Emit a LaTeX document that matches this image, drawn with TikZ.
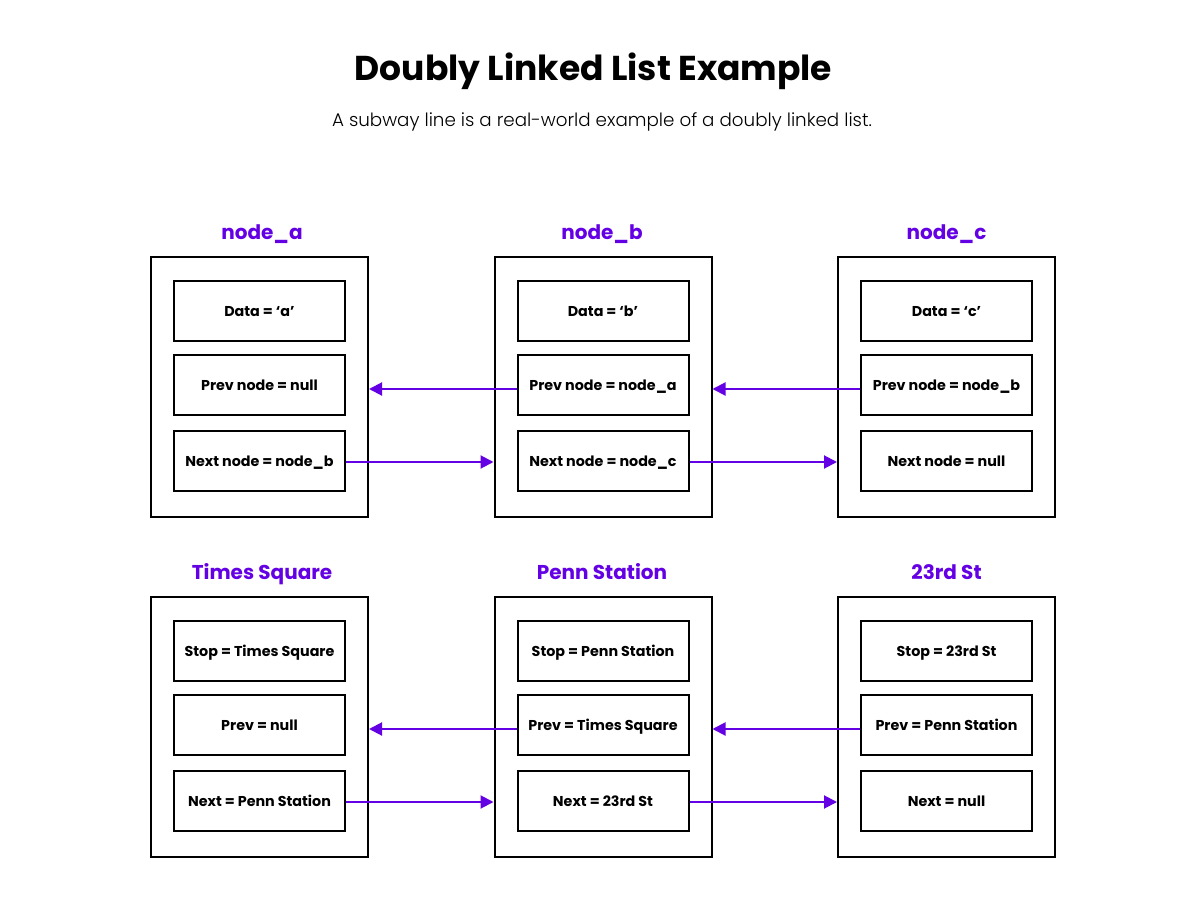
\documentclass[tikz,border=0pt]{standalone}
\usepackage{fontspec}
\setmainfont{Poppins}
\newfontfamily\lightfont{Poppins Light}
\usetikzlibrary{arrows.meta}
\definecolor{vio}{HTML}{6400E4}
\begin{document}
\begin{tikzpicture}[x=1pt,y=-1pt,
  outerbox/.style={draw, line width=2pt, minimum width=217pt, minimum height=260pt, inner sep=0pt},
  field/.style={draw, line width=2pt, minimum width=171pt, minimum height=60pt, inner sep=0pt, text height=10pt, text depth=0pt, font=\bfseries\fontsize{14.3}{18}\selectfont},
  heading/.style={text=vio, inner sep=0pt, anchor=base, font=\bfseries\fontsize{20}{24}\selectfont},
  link/.style={draw=vio, line width=2pt, -{Triangle[length=13pt,width=13pt]}}]
\useasboundingbox (0,0) rectangle (1195,915);
\fill[white] (0,0) rectangle (1195,915);
\node[anchor=base, inner sep=0pt, font=\bfseries\fontsize{34.5}{40}\selectfont] (title) at (593.5,81) {Doubly Linked List Example};
\node[anchor=base, inner sep=0pt, font=\lightfont\fontsize{18.3}{22}\selectfont] (subtitle) at (602,127) {A subway line is a real-world example of a doubly linked list.};
% row 1
\node[outerbox] (oa) at (259.5,387) {};
\node[outerbox] (ob) at (603,387) {};
\node[outerbox] (oc) at (946.5,387) {};
\node[heading] (ha) at (262,240) {node\_a};
\node[heading] (hb) at (602,240) {node\_b};
\node[heading] (hc) at (946.5,240) {node\_c};
\node[field] (da) at (259.5,311) {Data = ‘a’};
\node[field] (pa) at (259.5,385) {Prev node = null};
\node[field] (na) at (259.5,461) {Next node = node\_b};
\node[field] (db) at (603,311) {Data = ‘b’};
\node[field] (pb) at (603,385) {Prev node = node\_a};
\node[field] (nb) at (603,461) {Next node = node\_c};
\node[field] (dc) at (946.5,311) {Data = ‘c’};
\node[field] (pc) at (946.5,385) {Prev node = node\_b};
\node[field] (nc) at (946.5,461) {Next node = null};
% row 2
\node[outerbox] (ot) at (259.5,727) {};
\node[outerbox] (op) at (603,727) {};
\node[outerbox] (os) at (946.5,727) {};
\node[heading] (ht) at (262,579.5) {Times Square};
\node[heading] (hp) at (602,579.5) {Penn Station};
\node[heading] (hs) at (946.5,579.5) {23rd St};
\node[field] (st) at (259.5,651) {Stop = Times Square};
\node[field] (pt) at (259.5,725) {Prev = null};
\node[field] (nt) at (259.5,801) {Next = Penn Station};
\node[field] (sp) at (603,651) {Stop = Penn Station};
\node[field] (pp) at (603,725) {Prev = Times Square};
\node[field] (np) at (603,801) {Next = 23rd St};
\node[field] (ss) at (946.5,651) {Stop = 23rd St};
\node[field] (ps) at (946.5,725) {Prev = Penn Station};
\node[field] (ns) at (946.5,801) {Next = null};
% links
\draw[link] ([yshift=-4pt]pb.west) -- ([yshift=-4pt]pb.west -| oa.east);
\draw[link] ([yshift=-4pt]pc.west) -- ([yshift=-4pt]pc.west -| ob.east);
\draw[link] ([yshift=-1pt]na.east) -- ([yshift=-1pt]na.east -| ob.west);
\draw[link] ([yshift=-1pt]nb.east) -- ([yshift=-1pt]nb.east -| oc.west);
\draw[link] ([yshift=-4pt]pp.west) -- ([yshift=-4pt]pp.west -| ot.east);
\draw[link] ([yshift=-4pt]ps.west) -- ([yshift=-4pt]ps.west -| op.east);
\draw[link] ([yshift=-1pt]nt.east) -- ([yshift=-1pt]nt.east -| op.west);
\draw[link] ([yshift=-1pt]np.east) -- ([yshift=-1pt]np.east -| os.west);
\end{tikzpicture}
\end{document}
